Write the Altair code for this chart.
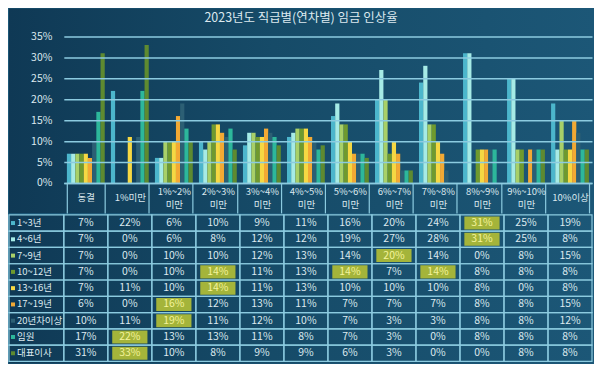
import altair as alt
import pandas as pd

title = "2023년도 직급별(연차별) 임금 인상율"
categories = ["동결", "1%미만", "1%~2%\n미만", "2%~3%\n미만", "3%~4%\n미만", "4%~5%\n미만",
              "5%~6%\n미만", "6%~7%\n미만", "7%~8%\n미만", "8%~9%\n미만", "9%~10%\n미만", "10%이상"]
series = ["1~3년", "4~6년", "7~9년", "10~12년", "13~16년", "17~19년", "20년차이상", "임원", "대표이사"]
colors = ["#4cb6cc", "#a6ebe6", "#a8d068", "#6f9a2e", "#f6d843", "#f2a934", "#2c5f74", "#2db79b", "#5e8a30"]

v_1_3 = [7, 22, 6, 10, 9, 11, 16, 20, 24, 31, 25, 19]
v_4_6 = [7, 0, 6, 8, 12, 12, 19, 27, 28, 31, 25, 8]
v_7_9 = [7, 0, 10, 10, 12, 13, 14, 20, 14, 0, 8, 15]
v_10_12 = [7, 0, 10, 14, 11, 13, 14, 7, 14, 8, 8, 8]
v_13_16 = [7, 11, 10, 14, 11, 13, 10, 10, 10, 8, 0, 8]
v_17_19 = [6, 0, 16, 12, 13, 11, 7, 7, 7, 8, 8, 15]
v_20 = [10, 11, 19, 11, 12, 10, 7, 3, 3, 8, 8, 12]
v_exec = [17, 22, 13, 13, 11, 8, 7, 3, 0, 8, 8, 8]
v_ceo = [31, 33, 10, 8, 9, 9, 6, 3, 0, 0, 8, 8]
values = [v_1_3, v_4_6, v_7_9, v_10_12, v_13_16, v_17_19, v_20, v_exec, v_ceo]

rows = []
for s, vals in zip(series, values):
    m = max(vals)
    for c, v in zip(categories, vals):
        rows.append({"series": s, "cat": c, "value": v, "label": f"{v}%", "top": bool(v == m)})
df = pd.DataFrame(rows)
sdf = pd.DataFrame({"series": series})
one = pd.DataFrame({"t": [title]})

font = "Noto Sans CJK KR"
line_c = "#8ccbe0"
txt_c = "#dce9ef"
hl_c = "#a4b43a"
hl_txt = "#f4f39a"
bg_left = "#0f3955"
bg_right = "#1c5777"

grad = alt.LinearGradient(gradient="linear", x1=0, y1=0, x2=1, y2=0,
                          stops=[alt.GradientStop(color=bg_left, offset=0),
                                 alt.GradientStop(color="#164b68", offset=0.45),
                                 alt.GradientStop(color=bg_right, offset=1)])

color_scale = alt.Scale(domain=series, range=colors)

W = 530
H_TOP = 147
H_TAB = 147

x_top = alt.X("cat:N", sort=categories,
              scale=alt.Scale(paddingInner=0.14, paddingOuter=0.07),
              axis=alt.Axis(title=None, orient="bottom", labelAngle=0,
                            labelExpr="split(datum.label, '\\n')",
                            tickBand="extent", tickSize=30, tickColor=line_c, tickWidth=1.2,
                            domainColor=line_c, domainWidth=1.5,
                            labelPadding={"condition": {"test": "indexof(datum.label, '\\n') >= 0",
                                                        "value": -21.5},
                                          "value": -15},
                            labelBaseline="middle",
                            labelColor=txt_c, labelFontSize=9.5, labelFont=font,
                            labelLineHeight=13, zindex=1))
y_top = alt.Y("value:Q", scale=alt.Scale(domain=[0, 35]),
              axis=alt.Axis(title=None, values=[0, 5, 10, 15, 20, 25, 30, 35],
                            labelExpr="datum.value + '%'", grid=True, gridColor=line_c,
                            gridWidth=1.5, domain=False, ticks=False, labelPadding=12,
                            labelColor=txt_c, labelFontSize=10.5, labelFont=font, zindex=1))

bg_top = alt.Chart(one).mark_rect(color=grad).encode(
    x=alt.value(-55), x2=alt.value(W + 2), y=alt.value(-28), y2=alt.value(H_TOP + 30))
title_txt = alt.Chart(one).mark_text(fontSize=12.5, font=font, color=txt_c, align="center",
                                     baseline="middle").encode(
    x=alt.value(238), y=alt.value(-19), text="t:N")

bars = alt.Chart(df).mark_bar().encode(
    x=x_top,
    xOffset=alt.XOffset("series:N", sort=series, scale=alt.Scale(paddingInner=0, paddingOuter=0)),
    y=y_top,
    color=alt.Color("series:N", scale=color_scale, legend=None),
)
top = alt.layer(bg_top, bars, title_txt).properties(width=W, height=H_TOP)

x_tab = alt.X("cat:N", sort=categories, scale=alt.Scale(paddingInner=0, paddingOuter=0), axis=None)
y_tab = alt.Y("series:N", sort=series, scale=alt.Scale(paddingInner=0, paddingOuter=0), axis=None)

bg_tab = alt.Chart(one).mark_rect(color=grad).encode(
    x=alt.value(-55), x2=alt.value(W + 2), y=alt.value(0), y2=alt.value(H_TAB + 2))
cells = alt.Chart(df).mark_rect(fillOpacity=0, stroke=line_c, strokeWidth=1.2).encode(x=x_tab, y=y_tab)
hl = alt.Chart(df).transform_filter("datum.top").mark_rect(
    color=hl_c, width={"band": 0.8}, height={"band": 0.8}).encode(x=x_tab, y=y_tab)
txt = alt.Chart(df).mark_text(fontSize=10.5, font=font).encode(
    x=x_tab, y=y_tab, text="label:N",
    color=alt.condition("datum.top", alt.value(hl_txt), alt.value(txt_c)))

lab_cell = alt.Chart(sdf).mark_rect(fillOpacity=0, stroke=line_c, strokeWidth=1.2).encode(
    x=alt.value(-55), x2=alt.value(0), y=y_tab)
lab_sq = alt.Chart(sdf).mark_square(size=16, opacity=1).encode(
    x=alt.value(-51), y=y_tab, color=alt.Color("series:N", scale=color_scale, legend=None))
lab_txt = alt.Chart(sdf).mark_text(align="left", fontSize=9.5, font=font, color=txt_c).encode(
    x=alt.value(-47), y=y_tab, text="series:N")

table = alt.layer(bg_tab, hl, cells, txt, lab_cell, lab_sq, lab_txt).properties(width=W, height=H_TAB)

chart = alt.vconcat(top, table, spacing=0).resolve_scale(x="independent", y="independent").properties(
    padding={"left": 0, "top": 0, "right": 0, "bottom": 0},
    background=bg_right,
).configure_view(stroke=None)

chart.save("out.html", embed_options={"renderer": "svg", "actions": False})
